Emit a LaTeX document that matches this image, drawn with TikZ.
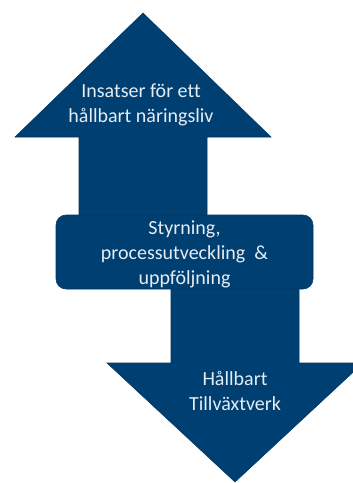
\documentclass[tikz,border=0pt]{standalone}
\usepackage{fontspec}
\setmainfont{Carlito}[Ligatures=NoCommon]
\usepackage{xcolor}
\definecolor{Col1}{RGB}{0,63,114}
\definecolor{Col2}{RGB}{230,236,242}
\usepackage{tikz}
\tikzstyle{Shape}=[fill=Col1,draw=Col1!85!black,line width=.4pt,line join=miter]
\tikzstyle{Box}=[Shape,rounded corners=7.5pt]
\tikzstyle{Label}=[text=Col2,align=center,inner sep=0pt,
font=\fontsize{15}{18.75}\selectfont]

\begin{document}
\begin{tikzpicture}[x=.75pt,y=-.75pt]
            \useasboundingbox (0,0) rectangle (353,483);
            % arrow up
            \draw[Shape](143,13)--(271,137)--(207,137)--(207,230)
                --(79,230)--(79,137)--(15,137)--cycle;
            % arrow down
            \draw[Shape](235,482)--(363,363)--(299,363)--(299,270)
                --(171,270)--(171,363)--(107,363)--cycle;
            % box in the middle
            \draw[Box](56,215)rectangle(313,289);
            \node[Label](insatser)at(141,105)
                {Insatser för ett\\hållbart näringsliv};
            \node[Label](styrning)at(184.5,254)
                {Styrning,\\processutveckling~ \&\\uppföljning};
            \node[Label](tillvaxt)at(235,391)
                {Hållbart\\Tillväxtverk};
        \end{tikzpicture}
\end{document}
